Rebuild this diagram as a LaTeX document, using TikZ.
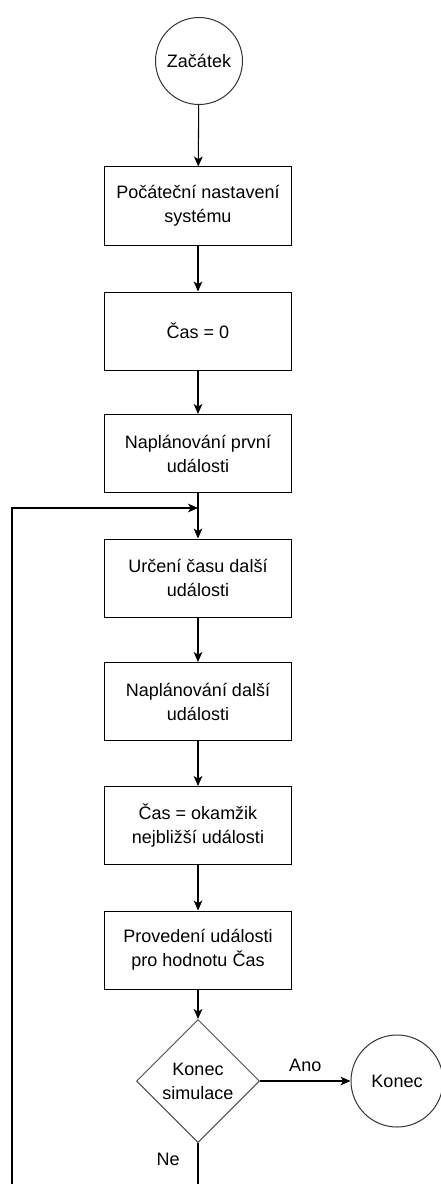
\documentclass[tikz,border=0pt]{standalone}
\usepackage{fontspec}
\setmainfont{Liberation Sans}
\usetikzlibrary{shapes.geometric, arrows.meta}

\begin{document}
\begin{tikzpicture}[x=0.75pt, y=-0.75pt,
  font=\fontsize{13.5}{18}\selectfont,
  box/.style={draw, line width=0.75pt, minimum width=140.25pt, minimum height=58.5pt, align=center, inner sep=0pt},
  ends/.style={draw=black!80, circle, line width=0.75pt, inner sep=0pt},
  decision/.style={draw=black!70, diamond, aspect=1, minimum size=92.25pt, line width=0.75pt, align=center, inner sep=0pt},
  arr/.style={line width=0.8pt, -{Stealth[length=7.5pt, width=6.5pt, inset=2pt]}}]
\useasboundingbox (0,0) rectangle (441,1184);
\clip (0,0) rectangle (441,1184);
% start and the main chain
\node[ends, minimum size=65.25pt] (start) at (199,61) {Začátek};
\node[box] (setup) at (198,206) {Počáteční nastavení\\systému};
\node[box] (zero) at (198,331) {Čas = 0};
\node[box] (first) at (198,453.5) {Naplánování první\\události};
\node[box] (when) at (198,578) {Určení času další\\události};
\node[box] (next) at (198,701.5) {Naplánování další\\události};
\node[box] (now) at (198,825.5) {Čas = okamžik\\nejbližší události};
\node[box] (run) at (198,950) {Provedení události\\pro hodnotu Čas};
\node[decision] (done) at (198,1081) {Konec\\simulace};
\node[ends, minimum size=69pt] (konec) at (397,1081) {Konec};
\coordinate (join) at (198,508);
\coordinate (loopb) at (12,1200);

\draw[arr] (start) -- (setup);
\draw[arr] (setup) -- (zero);
\draw[arr] (zero) -- (first);
\draw[arr] (first) -- (when);
\draw[arr] (when) -- (next);
\draw[arr] (next) -- (now);
\draw[arr] (now) -- (run);
\draw[arr] (run) -- (done);
\draw[arr] (done) -- node[above=3pt] {Ano} (konec);
% back to the loop
\draw[arr] (done.south) -- node[pos=0.28, left=10pt] {Ne} (done.south |- loopb) -- (loopb) |- (join);
\end{tikzpicture}
\end{document}
